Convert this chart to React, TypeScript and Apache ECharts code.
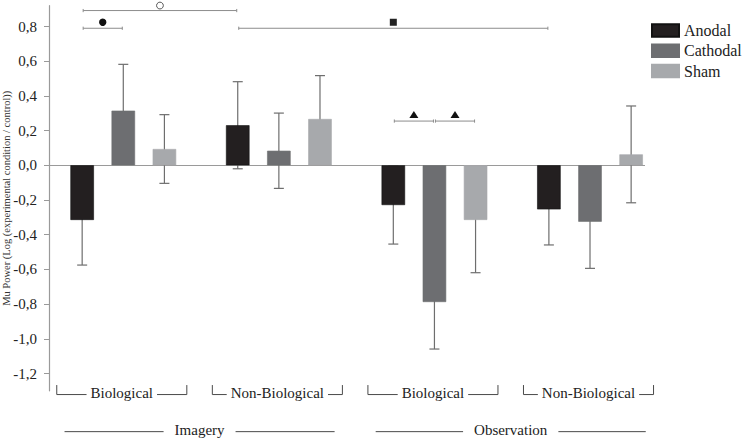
import React, { useEffect, useRef } from "react";
import * as echarts from "echarts";

const categories = ["Biological", "Non-Biological", "Biological", "Non-Biological"];
const tasks = ["Imagery", "Observation"];
const seriesNames = ["Anodal", "Cathodal", "Sham"];
const anodalMeans = [-0.315, 0.231, -0.229, -0.254];
const anodalErrors = [0.26, 0.251, 0.225, 0.205];
const cathodalMeans = [0.315, 0.084, -0.788, -0.325];
const cathodalErrors = [0.267, 0.217, 0.271, 0.269];
const shamMeans = [0.094, 0.267, -0.315, 0.063];
const shamErrors = [0.198, 0.25, 0.304, 0.279];
const yTickValues = [-1.2, -1.0, -0.8, -0.6, -0.4, -0.2, 0, 0.2, 0.4, 0.6, 0.8];
const yMin = -1.3;
const yMax = 0.92;

// significance brackets: [category, series] endpoints, height in data units
const sigFrom = [[0, 0], [0, 0], [1, 0], [2, 0], [2, 1]];
const sigTo = [[0, 1], [1, 0], [3, 0], [2, 1], [2, 2]];
const sigLevel = [0.79, 0.892, 0.79, 0.255, 0.255];
const sigMarker = ["dot", "ring", "square", "triangle", "triangle"];

const colors = ["#231f20", "#6d6e71", "#a7a9ac"];
const means = [anodalMeans, cathodalMeans, shamMeans];
const errors = [anodalErrors, cathodalErrors, shamErrors];

const FONT = "'Liberation Serif', 'Times New Roman', serif";
const BAR_W = 23.5;
const BAR_GAP = 0.75;
const OFFSET = BAR_W * (1 + BAR_GAP);
const CAP = 5;

export default function App() {
  const ref = useRef<HTMLDivElement>(null);
  useEffect(() => {
    document.body.style.margin = "0";
    const chart = echarts.init(ref.current!, null, { renderer: "svg" });

    const barSeries = seriesNames.map((name, si) => ({
      type: "bar",
      name,
      data: means[si],
      barWidth: BAR_W,
      barGap: `${BAR_GAP * 100}%`,
      z: 2,
      itemStyle: { color: colors[si], borderColor: si === 0 ? "#111" : colors[si], borderWidth: 0.6 },
      ...(si === 0
        ? {
            markLine: {
              silent: true,
              symbol: "none",
              label: { show: false },
              lineStyle: { color: "#9a9a9a", width: 1, type: "solid" },
              data: [[{ x: 49, xAxis: 0, yAxis: 0 }, { x: 645, xAxis: 0, yAxis: 0 }]],
              z: 1,
            },
          }
        : {}),
    }));

    const errorSeries = seriesNames.map((name, si) => ({
      type: "custom",
      name: name + " SE",
      z: 1,
      silent: true,
      data: means[si].map((m, i) => [i, m, errors[si][i]]),
      encode: { x: 0, y: 1 },
      renderItem: (params: any, api: any) => {
        const cat = api.value(0);
        const m = api.value(1);
        const e = api.value(2);
        const cx = api.coord([cat, 0])[0] + (si - 1) * OFFSET;
        const yHi = api.coord([cat, m + e])[1];
        const yLo = api.coord([cat, m - e])[1];
        const style = { stroke: "#6e6e6e", lineWidth: 1.2 };
        return {
          type: "group",
          children: [
            { type: "line", shape: { x1: cx, y1: yHi, x2: cx, y2: yLo }, style },
            { type: "line", shape: { x1: cx - CAP, y1: yHi, x2: cx + CAP, y2: yHi }, style },
            { type: "line", shape: { x1: cx - CAP, y1: yLo, x2: cx + CAP, y2: yLo }, style },
          ],
        };
      },
    }));

    const catBrackets = {
      type: "custom",
      name: "categories",
      silent: true,
      z: 3,
      data: categories.map((c, i) => [i, yMin]),
      encode: { x: 0, y: 1 },
      renderItem: (params: any, api: any) => {
        const i = params.dataIndex;
        const [cx0, bottom] = api.coord([i, yMin]);
        const band = api.size([1, 0])[0];
        const cx = cx0 - 1.5;
        const half = band * 0.418;
        const yLine = bottom + 3.7;
        const yTop = bottom - 5.8;
        const st = { stroke: "#4a4a4a", lineWidth: 1, fill: "none" };
        return {
          type: "group",
          children: [
            {
              type: "polyline",
              shape: { points: [[cx - half, yTop], [cx - half, yLine], [cx + half, yLine], [cx + half, yTop]] },
              style: st,
            },
            {
              type: "text",
              style: {
                text: categories[i],
                x: cx,
                y: yLine - 1.5,
                align: "center",
                verticalAlign: "middle",
                font: `15px ${FONT}`,
                fill: "#222",
                backgroundColor: "#fff",
                padding: [0, 4],
              },
            },
          ],
        };
      },
    };

    const taskBrackets = {
      type: "custom",
      name: "tasks",
      silent: true,
      z: 3,
      data: tasks.map((t, k) => [2 * k, yMin]),
      encode: { x: 0, y: 1 },
      renderItem: (params: any, api: any) => {
        const k = params.dataIndex;
        const [c1, bottom] = api.coord([2 * k, yMin]);
        const [c2] = api.coord([2 * k + 1, yMin]);
        const band = api.size([1, 0])[0];
        const cx = (c1 + c2) / 2 - 1.5;
        const half = band * 0.868;
        const y = bottom + 40.8;
        return {
          type: "group",
          children: [
            { type: "line", shape: { x1: cx - half, y1: y, x2: cx + half, y2: y }, style: { stroke: "#4a4a4a", lineWidth: 1 } },
            {
              type: "text",
              style: {
                text: tasks[k],
                x: cx,
                y: y - 1.5,
                align: "center",
                verticalAlign: "middle",
                font: `15px ${FONT}`,
                fill: "#222",
                backgroundColor: "#fff",
                padding: [0, 11],
              },
            },
          ],
        };
      },
    };

    const sigSeries = {
      type: "custom",
      name: "significance",
      silent: true,
      z: 4,
      data: sigLevel.map((lv, i) => [sigFrom[i][0], lv]),
      encode: { x: 0, y: 1 },
      renderItem: (params: any, api: any) => {
        const i = params.dataIndex;
        const x1 = api.coord([sigFrom[i][0], 0])[0] + (sigFrom[i][1] - 1) * OFFSET + 1;
        const x2 = api.coord([sigTo[i][0], 0])[0] + (sigTo[i][1] - 1) * OFFSET - 1;
        const y = api.coord([0, sigLevel[i]])[1];
        const mx = (x1 + x2) / 2;
        const st = { stroke: "#8c8c8c", lineWidth: 1 };
        const kind = sigMarker[i];
        const my = y - (kind === "ring" ? 5 : 6);
        let marker: any;
        if (kind === "dot") {
          marker = { type: "circle", shape: { cx: mx, cy: my, r: 3.7 }, style: { fill: "#111" } };
        } else if (kind === "ring") {
          marker = { type: "circle", shape: { cx: mx, cy: my, r: 3.4 }, style: { fill: "#fff", stroke: "#444", lineWidth: 0.9 } };
        } else if (kind === "square") {
          marker = { type: "rect", shape: { x: mx - 3.5, y: my - 3.5, width: 7, height: 7 }, style: { fill: "#222" } };
        } else {
          marker = {
            type: "polygon",
            shape: { points: [[mx, my - 4], [mx - 4.5, my + 3], [mx + 4.5, my + 3]] },
            style: { fill: "#111" },
          };
        }
        return {
          type: "group",
          children: [
            { type: "line", shape: { x1, y1: y, x2, y2: y }, style: st },
            { type: "line", shape: { x1, y1: y - 1.6, x2: x1, y2: y + 1.6 }, style: st },
            { type: "line", shape: { x1: x2, y1: y - 1.6, x2, y2: y + 1.6 }, style: st },
            marker,
          ],
        };
      },
    };

    chart.setOption({
      animation: false,
      backgroundColor: "#fff",
      textStyle: { fontFamily: FONT },
      grid: { left: 45.5, right: 76.2, top: 5.7, bottom: 49.15, containLabel: false, outerBoundsMode: "none" },
      legend: {
        data: seriesNames,
        orient: "vertical",
        left: 651,
        top: 22.5,
        padding: 0,
        itemWidth: 27,
        itemHeight: 12.5,
        itemGap: 4.3,
        icon: "rect",
        selectedMode: false,
        textStyle: { fontFamily: FONT, fontSize: 16, color: "#222", lineHeight: 16 },
      },
      xAxis: {
        type: "category",
        data: categories,
        axisLine: { show: false },
        axisTick: { show: false },
        axisLabel: { show: false },
        splitLine: { show: false },
      },
      yAxis: {
        type: "value",
        min: yMin,
        max: yMax,
        offset: -3.5,
        name: "Mu Power (Log (experimental condition / control))",
        nameLocation: "middle",
        nameGap: 37,
        nameMoveOverlap: false,
        nameTextStyle: { fontFamily: FONT, fontSize: 10.5, color: "#333" },
        axisLine: { show: true, lineStyle: { color: "#9a9a9a", width: 1.2 } },
        axisTick: { show: true, length: 5, customValues: yTickValues, lineStyle: { color: "#9a9a9a" } },
        axisLabel: {
          customValues: yTickValues,
          margin: 12,
          fontFamily: FONT,
          fontSize: 15,
          color: "#222",
          formatter: (v: number) => v.toFixed(1).replace(".", ","),
        },
        splitLine: { show: false },
      },
      series: [...errorSeries, ...barSeries, catBrackets, taskBrackets, sigSeries],
    });
    return () => chart.dispose();
  }, []);
  return <div ref={ref} style={{ width: 744, height: 440 }} />;
}
